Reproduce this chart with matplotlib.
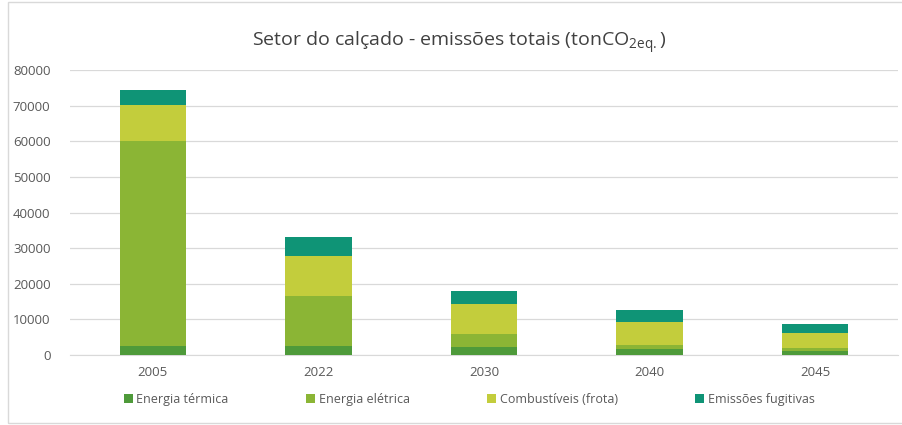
import matplotlib.pyplot as plt
import matplotlib.patches as patches
import numpy as np

plt.rcParams['font.family'] = ['Open Sans', 'DejaVu Sans']

anos = ['2005', '2022', '2030', '2040', '2045']
termica = [2500, 2600, 2300, 1700, 1200]
eletrica = [57500, 14000, 3500, 1100, 700]
combustiveis = [10200, 11200, 8400, 6400, 4200]
fugitivas = [4200, 5300, 3800, 3400, 2700]

series = [
    ('Energia térmica', termica, '#4e9a3a'),
    ('Energia elétrica', eletrica, '#8bb535'),
    ('Combustíveis (frota)', combustiveis, '#c3cd3c'),
    ('Emissões fugitivas', fugitivas, '#0f9476'),
]

fig = plt.figure(figsize=(9.03, 4.25), dpi=100)
ax = fig.add_axes([70/903, 70/425, 828/903, 285/425])

x = np.arange(len(anos))
base = np.zeros(len(anos))
for nome, vals, cor in series:
    ax.bar(x, vals, width=0.4, bottom=base, color=cor, label=nome, zorder=3)
    base += np.array(vals)

ax.set_xlim(-0.5, len(anos) - 0.5)
ax.set_ylim(0, 80000)
ax.set_yticks(range(0, 80001, 10000))
ax.set_xticks(x)
ax.set_xticklabels(anos)
ax.grid(axis='y', color='#d9d9d9', linewidth=0.9, zorder=0)
for s in ['top', 'right', 'left']:
    ax.spines[s].set_visible(False)
ax.spines['bottom'].set_color('#d9d9d9')
ax.tick_params(axis='both', length=0, colors='#595959', labelsize=9.5)
ax.tick_params(axis='y', pad=14)
ax.tick_params(axis='x', pad=8)

fig.text(0.508, 0.9, r'Setor do calçado - emissões totais (tonCO$_{\mathregular{2eq.}}\mathregular{)}$',
         ha='center', va='center', fontsize=14, color='#404040')

# legenda embaixo
fig.legend(loc='center', bbox_to_anchor=(0.5195, 0.06), ncol=4, frameon=False,
           fontsize=9, handlelength=0.7, handleheight=0.7, handletextpad=0.3,
           columnspacing=6.2, labelcolor='#595959')

fig.patches.append(patches.Rectangle((8/903, 2/425), 900/903, 421/425, transform=fig.transFigure,
                                     fill=False, edgecolor='#d9d9d9', linewidth=1))

fig.savefig('out.png', dpi=100)
